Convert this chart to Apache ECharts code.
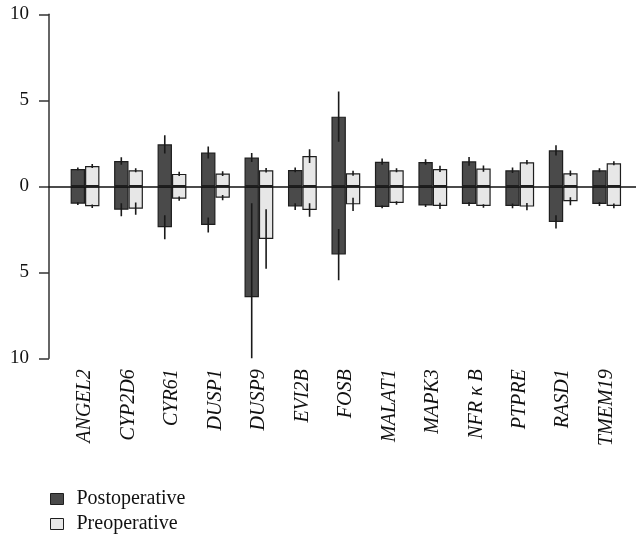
<!DOCTYPE html>
<html>
<head>
<meta charset="utf-8">
<script src="https://cdn.jsdelivr.net/npm/echarts@6/dist/echarts.min.js"></script>
<style>html,body{margin:0;padding:0;background:#fff}#c{width:636px;height:537px}</style>
</head>
<body>
<div id="c"></div>
<script>
var categories = ['ANGEL2','CYP2D6','CYR61','DUSP1','DUSP9','EVI2B','FOSB','MALAT1','MAPK3','NFR \u03ba B','PTPRE','RASD1','TMEM19'];
var postUp      = [1.01, 1.47, 2.44, 1.96, 1.67, 0.95, 4.05, 1.43, 1.41, 1.45, 0.93, 2.09, 0.93];
var postUpErr   = [0.08, 0.22, 0.53, 0.35, 0.26, 0.14, 1.46, 0.18, 0.16, 0.25, 0.16, 0.30, 0.12];
var postDown    = [-1.01, -1.36, -2.38, -2.25, -6.45, -1.18, -3.97, -1.20, -1.12, -1.03, -1.14, -2.07, -1.03];
var postDownErr = [0.08, 0.38, 0.70, 0.43, 5.46, 0.20, 1.49, 0.08, 0.08, 0.12, 0.14, 0.38, 0.12];
var preUp       = [1.18, 0.93, 0.72, 0.74, 0.93, 1.76, 0.76, 0.93, 1.01, 1.03, 1.40, 0.76, 1.34];
var preUpErr    = [0.12, 0.12, 0.12, 0.14, 0.13, 0.40, 0.14, 0.12, 0.18, 0.18, 0.13, 0.16, 0.12];
var preDown     = [-1.16, -1.30, -0.72, -0.66, -3.06, -1.38, -1.05, -0.97, -1.14, -1.14, -1.18, -0.87, -1.14];
var preDownErr  = [0.10, 0.36, 0.12, 0.15, 1.73, 0.39, 0.39, 0.10, 0.18, 0.10, 0.21, 0.23, 0.14];
var yTicks = [-10, -5, 0, 5, 10];

var BW = 14.4;
var DARK = '#4a4a4a', LIGHT = '#e7e7e7', EDGE = '#1e1e1e';
var FONT = '"Liberation Serif", "DejaVu Serif", serif';

function errData(up, upE, dn, dnE) {
  var d = [];
  for (var i = 0; i < up.length; i++) {
    d.push([i, up[i] - upE[i], up[i] + upE[i]]);
    d.push([i, dn[i] - dnE[i], dn[i] + dnE[i]]);
  }
  return d;
}
function errSeries(data, side) {
  return {
    type: 'custom', xAxisIndex: 0, yAxisIndex: 0, z: 5, clip: true, silent: true,
    renderItem: function (params, api) {
      var a = api.coord([api.value(0), api.value(1)]);
      var b = api.coord([api.value(0), api.value(2)]);
      var x = a[0] + side * BW / 2;
      return { type: 'line', shape: { x1: x, y1: a[1], x2: x, y2: b[1] },
               style: { stroke: '#1a1a1a', lineWidth: 1.6 } };
    },
    encode: { x: 0, y: [1, 2] },
    data: data
  };
}
function barSeries(name, stack, vals, color) {
  return { name: name, type: 'bar', stack: stack, data: vals, barWidth: BW, barGap: '0%',
           xAxisIndex: 0, yAxisIndex: 0, z: 2,
           itemStyle: { color: color, borderColor: EDGE, borderWidth: 1.2 } };
}
function legendBox(name, color, top) {
  return {
    orient: 'vertical', left: 50, top: top, padding: 0, itemWidth: 13, itemHeight: 11,
    icon: 'rect',
    data: [{ name: name, itemStyle: { color: color, borderColor: EDGE, borderWidth: 1 } }],
    textStyle: { fontFamily: FONT, fontSize: 20, color: '#111', lineHeight: 20, padding: [0, 0, 0, 8] }
  };
}

var chart = echarts.init(document.getElementById('c'), null, { renderer: 'canvas' });
chart.setOption({
  animation: false,
  backgroundColor: '#fff',
  grid: [
    { left: 63.3, right: 7.6, top: 14.3, bottom: 178.7 },
    { left: 49, right: 0, top: 14.3, bottom: 178.7 }
  ],
  legend: [legendBox('Postoperative', DARK, 489), legendBox('Preoperative', LIGHT, 514)],
  xAxis: [
    { type: 'category', gridIndex: 0, data: categories, position: 'bottom',
      axisLine: { show: false, onZero: false }, axisTick: { show: false }, splitLine: { show: false },
      axisLabel: { rotate: 90, margin: 11, interval: 0, fontFamily: FONT, fontStyle: 'italic',
                   fontSize: 20, color: '#111' } },
    { type: 'value', gridIndex: 1, min: 0, max: 1, z: 10,
      axisLine: { show: true, onZero: true, lineStyle: { color: '#111', width: 1.6 } },
      axisTick: { show: false }, axisLabel: { show: false }, splitLine: { show: false } }
  ],
  yAxis: [
    { type: 'value', gridIndex: 0, min: yTicks[0], max: yTicks[yTicks.length - 1], interval: 5, offset: 14.3,
      axisLine: { show: true, lineStyle: { color: '#333', width: 1.5 } },
      axisTick: { show: true, length: 10, lineStyle: { color: '#333', width: 1.5 } },
      splitLine: { show: false },
      axisLabel: { margin: 20, fontFamily: FONT, fontSize: 19, color: '#111',
                   formatter: function (v) { return String(Math.abs(v)); } } },
    { type: 'value', gridIndex: 1, min: yTicks[0], max: yTicks[yTicks.length - 1], show: false }
  ],
  series: [
    barSeries('Postoperative', 'post', postUp, DARK),
    barSeries('Postoperative', 'post', postDown, DARK),
    barSeries('Preoperative', 'pre', preUp, LIGHT),
    barSeries('Preoperative', 'pre', preDown, LIGHT),
    errSeries(errData(postUp, postUpErr, postDown, postDownErr), -1),
    errSeries(errData(preUp, preUpErr, preDown, preDownErr), 1)
  ]
});
</script>
</body>
</html>
